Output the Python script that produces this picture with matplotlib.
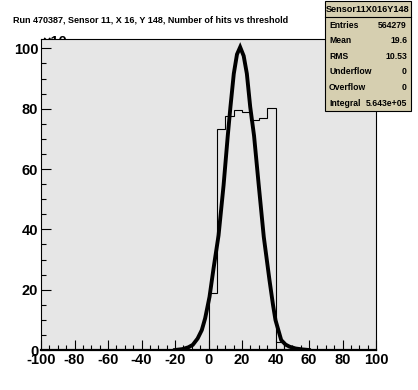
import numpy as np
import matplotlib
matplotlib.use("Agg")
import matplotlib.pyplot as plt
from matplotlib.patches import Rectangle
from matplotlib.ticker import MultipleLocator

plt.rcParams["font.family"] = ["Liberation Sans", "DejaVu Sans"]
plt.rcParams["axes.unicode_minus"] = False

# histogram (counts in units of 10^3)
bin_edges = [0, 5, 10, 15, 20, 25, 30, 35, 40, 45]
bin_counts = [18.8, 73.4, 77.6, 79.7, 78.8, 76.4, 77.0, 80.3, 2.5]

# fitted curve, points
fit_x = [-20, -15.5, -12, -9.4, -6.5, -4, -2, 0.6, 3, 6.0, 9.0, 11.5, 13.1, 15.1,
         17, 18.9, 21, 22.9, 24.9, 27.2, 30, 33, 36.4, 38.5, 40, 43.4, 46, 48.4, 52, 56, 60]
fit_y = [0, 0.3, 0.9, 1.7, 3.8, 6.6, 10.5, 17.6, 27, 38, 54.6, 71, 80.6, 91.6,
         98, 100.4, 97.5, 91.6, 80.6, 71, 54.6, 37.5, 23.2, 15, 9.9, 3.3, 1.8, 1.1, 0.5, 0.2, 0]

stat_names = ["Entries", "Mean", "RMS", "Underflow", "Overflow", "Integral"]
stat_values = ["564279", "19.6", "10.53", "0", "0", "5.643e+05"]
stat_title = "Sensor11X016Y148"
title = "Run 470387, Sensor 11, X 16, Y 148, Number of hits vs threshold"

W, H = 418, 390
fig = plt.figure(figsize=(W / 100, H / 100), dpi=100)
ax = fig.add_axes([41 / W, 1 - 350 / H, 335 / W, 311 / H])
ax.set_facecolor("#e6e6e6")

ax.stairs(bin_counts, bin_edges, color="black", lw=0.8, baseline=0)
ax.plot(fit_x, fit_y, color="black", lw=2.8, solid_joinstyle="miter")

ax.set_xlim(-100, 100)
ax.set_ylim(0, 103.1)
ax.xaxis.set_major_locator(MultipleLocator(20))
ax.xaxis.set_minor_locator(MultipleLocator(5))
ax.yaxis.set_major_locator(MultipleLocator(20))
ax.yaxis.set_minor_locator(MultipleLocator(5))
ax.tick_params(which="both", direction="in", top=False, right=False, colors="black")
ax.tick_params(which="major", length=7.2, width=0.8, labelsize=10.5, pad=2)
ax.tick_params(which="minor", length=3.6, width=0.8)
for lab in ax.get_xticklabels() + ax.get_yticklabels():
    lab.set_fontweight("bold")
for side, sp in ax.spines.items():
    sp.set_linewidth(0.8)
ax.spines["bottom"].set_linewidth(1.6)

# scale factor label, partly hidden behind the frame
fig.text(42 / W, 1 - 45.5 / H, "×10", fontsize=10.5, fontweight="bold",
         ha="left", va="baseline", zorder=-1)

fig.text(13 / W, 1 - 20 / H, title, fontsize=6.5, fontweight="bold",
         ha="left", va="center")

# stats box
bx0, bx1, by0, by1 = 325, 410.5, 1, 111
fig.patches.append(Rectangle((bx0 / W, 1 - by1 / H), (bx1 - bx0) / W, (by1 - by0) / H,
                             transform=fig.transFigure, facecolor="#d6cfb0",
                             edgecolor="black", lw=0.8, zorder=5))
fig.lines.append(plt.Line2D([bx0 / W, bx1 / W], [1 - 17 / H, 1 - 17 / H],
                            transform=fig.transFigure, color="black", lw=0.8, zorder=6))
fig.text((bx0 + bx1) / 2 / W, 1 - 10 / H, stat_title, fontsize=6.6, fontweight="bold",
         ha="center", va="center", zorder=7)
for i, (name, val) in enumerate(zip(stat_names, stat_values)):
    yy = 1 - (25 + i * 15.6) / H
    fig.text(329 / W, yy, name, fontsize=6.2, fontweight="bold", ha="left", va="center", zorder=7)
    fig.text(407 / W, yy, val, fontsize=6.2, fontweight="bold", ha="right", va="center", zorder=7)

fig.savefig("out.png", dpi=100, facecolor="white")
